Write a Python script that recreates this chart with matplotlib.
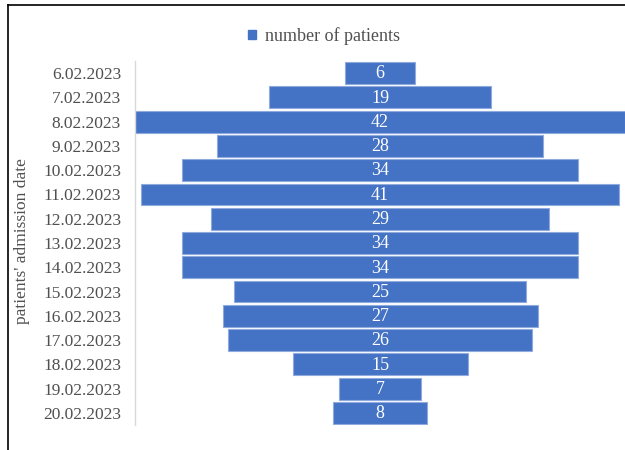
import matplotlib
matplotlib.use("Agg")
import matplotlib.pyplot as plt
from matplotlib.lines import Line2D
from matplotlib.patches import Patch

dates = ["6.02.2023", "7.02.2023", "8.02.2023", "9.02.2023", "10.02.2023",
         "11.02.2023", "12.02.2023", "13.02.2023", "14.02.2023", "15.02.2023",
         "16.02.2023", "17.02.2023", "18.02.2023", "19.02.2023", "20.02.2023"]
patients = [6, 19, 42, 28, 34, 41, 29, 34, 34, 25, 27, 26, 15, 7, 8]

plt.rcParams["font.family"] = ["Liberation Serif", "DejaVu Serif"]
blue = "#4472C4"
gray = "#505050"

fig = plt.figure(figsize=(6.25, 4.5), dpi=100)
ax = fig.add_axes([0.216, 0.0553, 0.784, 0.8094])

ypos = list(range(len(dates)))
lefts = [-v / 2 for v in patients]
bars = ax.barh(ypos, patients, left=lefts, height=0.9, color=blue,
               edgecolor="#8FAADC", linewidth=0.8)
for y, v in zip(ypos, patients):
    ax.text(0, y + 0.03, str(v), ha="center", va="center", color="white", fontsize=13)

ax.set_xlim(-21, 21)
ax.set_ylim(len(dates) - 0.5, -0.5)
ax.set_yticks(ypos)
ax.set_yticklabels(dates, fontsize=12.5, color=gray)
ax.tick_params(axis="y", length=0, pad=10)
ax.set_xticks([])
for side in ["top", "right", "bottom"]:
    ax.spines[side].set_visible(False)
ax.spines["left"].set_color("#D9D9D9")
ax.spines["left"].set_linewidth(1.0)

fig.text(0.036, 0.465, "patients' admission date", rotation=90, ha="center",
         va="center", fontsize=12.5, color=gray)

fig.legend(handles=[Patch(facecolor=blue, edgecolor=blue)], labels=["number of patients"],
           loc="center", bbox_to_anchor=(0.518, 0.92), frameon=False,
           fontsize=13, handlelength=0.45, handleheight=0.45, handletextpad=0.5,
           labelcolor=gray)

# outer frame
fig.add_artist(Line2D([8 / 625, 8 / 625], [0, 1 - 5 / 450], transform=fig.transFigure,
                      color="black", linewidth=1.2))
fig.add_artist(Line2D([8 / 625, 1], [1 - 5 / 450, 1 - 5 / 450], transform=fig.transFigure,
                      color="black", linewidth=1.2))

fig.savefig("out.png", dpi=100)
